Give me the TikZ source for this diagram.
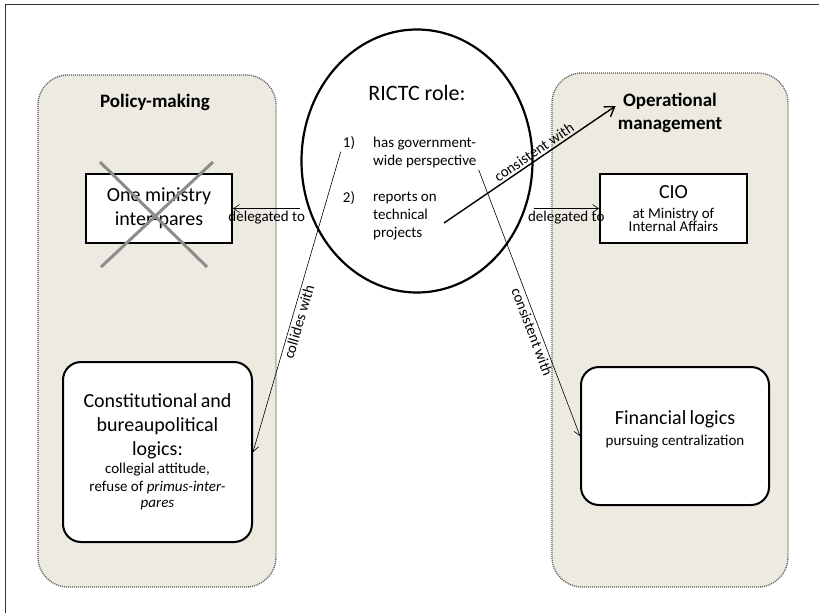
\documentclass[tikz,border=0pt]{standalone}
\usepackage{fontspec}
\setmainfont{Carlito}
\usetikzlibrary{arrows.meta,shapes.geometric}
\definecolor{panelfill}{RGB}{236,234,225}
\definecolor{crossgray}{RGB}{140,140,140}
\newcommand{\arw}{-{Straight Barb[length=6pt,width=8pt]}}
\newcommand{\thkarw}{-{Straight Barb[length=9pt,width=12pt]}}
\newcommand{\bigtxt}{\fontsize{20}{24}\selectfont}
\newcommand{\smalltxt}{\fontsize{15}{18}\selectfont}

\begin{document}
\begin{tikzpicture}[x=1pt,y=-1pt,
  panel/.style={draw=black!65,line width=1.3pt,dash pattern=on 1pt off 1pt,fill=panelfill,rounded corners=30pt},
  box/.style={draw,line width=2pt,fill=white,align=center},
  rbox/.style={box,rounded corners=18pt},
  lbl/.style={font=\smalltxt,inner sep=2pt}]
\useasboundingbox (0,0) rectangle (819,613);
\draw[line width=1pt,black!80] (5,613) -- (5,4) -- (819,4);
% side panels
\node[panel,minimum width=238pt,minimum height=512pt] (policy) at (157,331) {};
\node[panel,minimum width=236pt,minimum height=514pt] (ops) at (670,330) {};
\node[font=\bfseries\fontsize{19}{23}\selectfont] (policytitle) at (155,102) {Policy-making};
\node[font=\bfseries\fontsize{19}{23}\selectfont,align=center,inner sep=2pt] (opstitle) at (670,113) {Operational\\management};
% RICTC role
\node[draw,ellipse,line width=2.2pt,minimum width=231pt,minimum height=263pt] (rictc) at (417,161) {};
\node[font=\fontsize{22}{26}\selectfont] (role) at (417,93) {RICTC role:};
\node[lbl] (n1) at (349,143) {1)};
\node[lbl,anchor=west,align=left] (t1) at (371,152) {has government-\\wide perspective};
\node[lbl] (n2) at (349,198) {2)};
\node[lbl,anchor=west,align=left] (t2) at (371,216) {reports on\\technical\\projects};
% boxes
\node[box,font=\bigtxt,minimum width=146pt,minimum height=69pt] (ministry) at (159,208.5) {One ministry\\inter-pares};
\draw[crossgray,line width=3pt] (100,162) -- (207,267);
\draw[crossgray,line width=3pt] (213,162) -- (101,267);
\node[box,text width=140pt,minimum width=147pt,minimum height=69pt,inner sep=2pt] (cio) at (673.5,208.5)
  {\bigtxt CIO\par\smalltxt\vspace{2pt} at Ministry of\\Internal Affairs};
\node[rbox,text width=180pt,minimum width=189pt,minimum height=180pt,inner sep=2pt] (const) at (157.5,452)
  {\bigtxt Constitutional and\\bureaupolitical\\logics:\par\smalltxt collegial attitude,\\refuse of \textit{primus-inter-}\\[4pt]\textit{pares}};
\node[rbox,text width=180pt,minimum width=188pt,minimum height=138pt,inner sep=2pt] (fin) at (675,436)
  {\bigtxt Financial logics\par\smalltxt\vspace{3pt} pursuing centralization\par\rule{0pt}{12pt}};
% connectors
\draw[\arw,line width=0.6pt] (ministry.east -| rictc.west) -- node[lbl,below] {delegated to} (ministry.east);
\draw[\arw,line width=0.6pt] (cio.west -| rictc.east) -- node[lbl,below] {delegated to} (cio.west);
\draw[\arw,line width=0.6pt] (n1.south west) -- node[lbl,sloped,below,pos=0.56] {collides with} (const.east);
\draw[\arw,line width=0.6pt] (t1.south east) -- node[lbl,sloped,below,pos=0.6] {consistent with} (fin.west);
\draw[\thkarw,line width=1.4pt] ([shift={(5,7)}]t2.east) -- node[lbl,sloped,above,pos=0.55] {consistent with} ([yshift=7pt]opstitle.west);
\end{tikzpicture}
\end{document}
